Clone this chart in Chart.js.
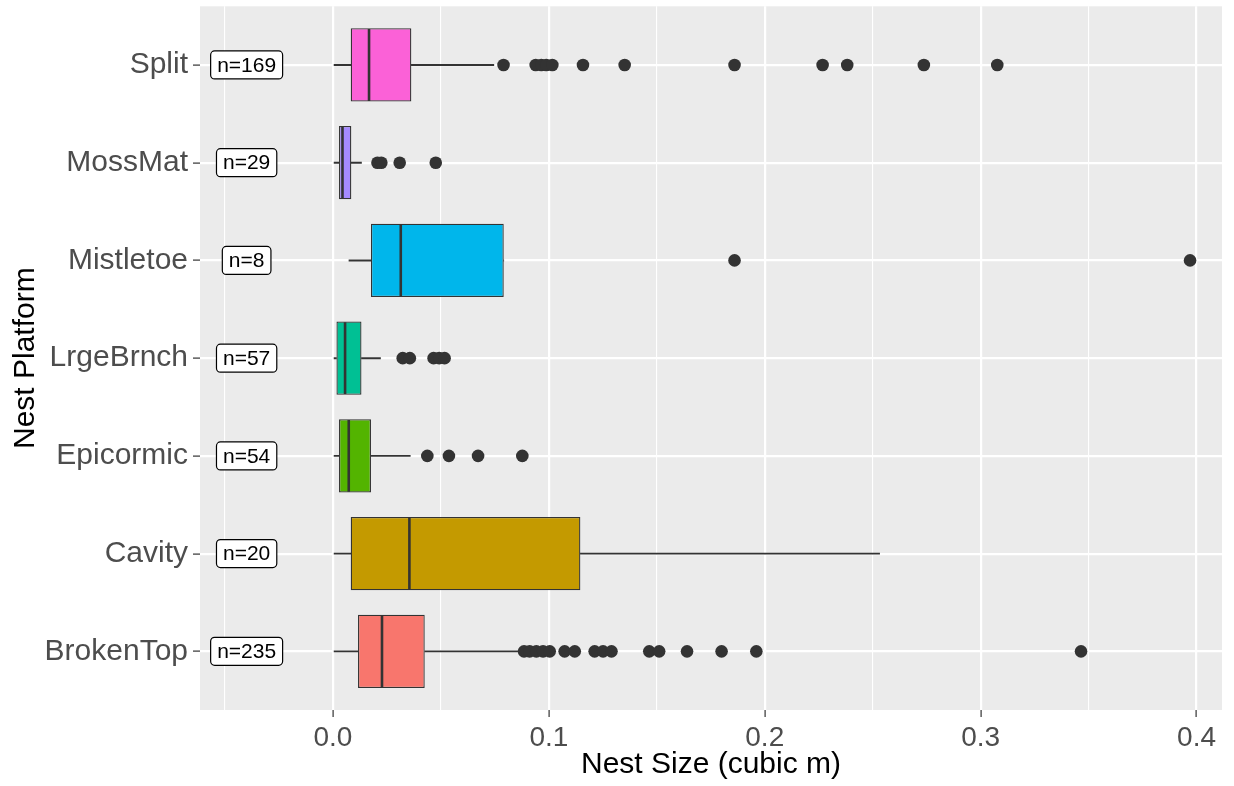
<!DOCTYPE html>
<html>
<head>
<meta charset="utf-8">
<script src="https://cdn.jsdelivr.net/npm/chart.js@4.4.0/dist/chart.umd.min.js"></script>
<style>
html,body{margin:0;padding:0;background:#ffffff;}
#wrap{width:1234px;height:786px;}
</style>
</head>
<body>
<div id="wrap"><canvas id="c" width="1234" height="786"></canvas></div>
<script>
// ---- data (bottom to top) ----
const categories = ['BrokenTop','Cavity','Epicormic','LrgeBrnch','Mistletoe','MossMat','Split'];
const counts     = [235, 20, 54, 57, 8, 29, 169];
const whiskLow   = [0.0000, 0.0000, 0.0000, 0.0000, 0.0074, 0.0000, 0.0005];
const q1         = [0.0116, 0.0082, 0.0028, 0.0016, 0.0176, 0.0028, 0.0082];
const median     = [0.0227, 0.0354, 0.0073, 0.0056, 0.0314, 0.0044, 0.0167];
const q3         = [0.0425, 0.1146, 0.0176, 0.0132, 0.0791, 0.0085, 0.0363];
const whiskHigh  = [0.0860, 0.2532, 0.0358, 0.0220, 0.0791, 0.0132, 0.0745];
const outBrokenTop = [0.0885,0.0911,0.0942,0.0973,0.1004,0.1073,0.1120,0.1212,0.1251,0.1290,0.1465,0.1511,0.1640,0.1800,0.1961,0.3465];
const outCavity    = [];
const outEpicormic = [0.0437,0.0537,0.0672,0.0877];
const outLrgeBrnch = [0.0323,0.0356,0.0466,0.0492,0.0517];
const outMistletoe = [0.1860,0.3970];
const outMossMat   = [0.0206,0.0224,0.0309,0.0476];
const outSplit     = [0.0790,0.0939,0.0965,0.0988,0.1016,0.1158,0.1351,0.1860,0.2268,0.2382,0.2737,0.3077];
const outliers = [outBrokenTop,outCavity,outEpicormic,outLrgeBrnch,outMistletoe,outMossMat,outSplit];
const xGridValues = [-0.05,0,0.05,0.1,0.15,0.2,0.25,0.3,0.35,0.4];
const xTickValues = [0,0.1,0.2,0.3,0.4];
const xTickLabels = ['0.0','0.1','0.2','0.3','0.4'];
const colors = ['#F8766D','#C49A00','#53B400','#00C094','#00B6EB','#A58AFF','#FB61D7'];
const labelX = -0.04;

const FONT = '"Liberation Sans", Arial, sans-serif';
const isMajor = v => xTickValues.some(t => Math.abs(t - v) < 1e-9);

const panelBg = {
  id: 'panelBg',
  beforeDraw(chart) {
    const {ctx, chartArea: a} = chart;
    ctx.save();
    ctx.fillStyle = '#ffffff';
    ctx.fillRect(0, 0, chart.width, chart.height);
    ctx.fillStyle = '#EBEBEB';
    ctx.fillRect(a.left, a.top, a.right - a.left, a.bottom - a.top);
    ctx.restore();
  }
};

const nLabels = {
  id: 'nLabels',
  afterDatasetsDraw(chart) {
    const {ctx, scales: {x, y}} = chart;
    ctx.save();
    ctx.font = '21px ' + FONT;
    ctx.textAlign = 'center';
    ctx.textBaseline = 'middle';
    categories.forEach((c, i) => {
      const txt = 'n=' + counts[i];
      const px = x.getPixelForValue(labelX);
      const py = y.getPixelForValue(i + 1);
      const tw = ctx.measureText(txt).width;
      const w = tw + 13, h = 28;
      ctx.beginPath();
      ctx.roundRect(px - w / 2, py - h / 2, w, h, 4);
      ctx.fillStyle = '#ffffff';
      ctx.fill();
      ctx.lineWidth = 1.2;
      ctx.strokeStyle = '#000000';
      ctx.stroke();
      ctx.fillStyle = '#000000';
      ctx.fillText(txt, px, py + 1);
    });
    ctx.restore();
  }
};

const lowerWhisk = categories.map((c, i) => ({y: i + 1, x: [whiskLow[i], q1[i]]}));
const upperWhisk = categories.map((c, i) => ({y: i + 1, x: [q3[i], whiskHigh[i]]}));
const boxes = categories.map((c, i) => ({y: i + 1, x: [q1[i], q3[i]]}));
const meds = categories.map((c, i) => ({x: median[i], y: i + 1}));
const outPts = [];
outliers.forEach((arr, i) => arr.forEach(v => outPts.push({x: v, y: i + 1})));

const halfBox = ctx => {
  const y = ctx.chart.scales.y;
  return Math.abs(y.getPixelForValue(1.375) - y.getPixelForValue(1)) - 0.7;
};

new Chart(document.getElementById('c'), {
  data: {
    datasets: [
      { type: 'line', label: 'outliers', data: outPts, showLine: false, order: 1,
        pointRadius: 6.3, pointBackgroundColor: '#333333', pointBorderColor: '#333333', pointBorderWidth: 0 },
      { type: 'line', label: 'median', data: meds, showLine: false, order: 2,
        pointStyle: 'line', pointRotation: 90, pointRadius: halfBox, pointBorderColor: '#333333', pointBorderWidth: 2.6 },
      { type: 'bar', label: 'box', data: boxes, indexAxis: 'y', grouped: false, order: 3,
        categoryPercentage: 1, barPercentage: 0.75, backgroundColor: colors,
        borderColor: '#333333', borderWidth: 1.3, borderSkipped: false },
      { type: 'bar', label: 'lw', data: lowerWhisk, indexAxis: 'y', grouped: false, order: 4,
        barThickness: 1.3, backgroundColor: '#333333', borderWidth: 0 },
      { type: 'bar', label: 'uw', data: upperWhisk, indexAxis: 'y', grouped: false, order: 5,
        barThickness: 1.3, backgroundColor: '#333333', borderWidth: 0 }
    ]
  },
  options: {
    responsive: false,
    devicePixelRatio: 1,
    animation: false,
    events: [],
    layout: { padding: { top: 4.5, right: 12, left: 0, bottom: 0 } },
    plugins: { legend: { display: false }, tooltip: { enabled: false } },
    scales: {
      x: {
        type: 'linear', position: 'bottom', min: -0.0616, max: 0.4118, offset: false,
        afterBuildTicks: s => { s.ticks = xGridValues.map(v => ({value: v})); },
        afterFit: s => { s.height = 76; s.paddingLeft = 0; s.paddingRight = 0; },
        ticks: {
          autoSkip: false, maxRotation: 0, padding: 4, color: '#4D4D4D',
          font: { family: FONT, size: 28 },
          callback: v => { const k = xTickValues.findIndex(t => Math.abs(t - v) < 1e-9); return k >= 0 ? xTickLabels[k] : ''; }
        },
        grid: {
          offset: false,
          color: '#FFFFFF',
          lineWidth: ctx => (ctx.tick && isMajor(ctx.tick.value)) ? 2.2 : 1.1,
          tickColor: ctx => (ctx.tick && isMajor(ctx.tick.value)) ? '#333333' : 'rgba(0,0,0,0)',
          tickLength: 7, tickWidth: 1.2
        },
        border: { display: false },
        title: { display: true, text: 'Nest Size (cubic m)', color: '#000000',
          font: { family: FONT, size: 30, lineHeight: 1 }, padding: { top: 0, bottom: 6 } }
      },
      y: {
        type: 'linear', position: 'left', min: 0.4, max: 7.6, offset: false,
        afterBuildTicks: s => { s.ticks = categories.map((c, i) => ({value: i + 1})); },
        afterFit: s => { s.width = 200; s.paddingTop = 0; s.paddingBottom = 0; },
        ticks: {
          autoSkip: false, padding: 5, color: '#4D4D4D',
          font: { family: FONT, size: 30 },
          callback: v => categories[Math.round(v) - 1]
        },
        grid: { offset: false, color: '#FFFFFF', lineWidth: 2.2, tickColor: '#333333', tickLength: 7, tickWidth: 1.2 },
        border: { display: false },
        title: { display: true, text: 'Nest Platform', color: '#000000',
          font: { family: FONT, size: 30, lineHeight: 1 }, padding: { top: 11, bottom: 0 } }
      }
    }
  },
  plugins: [panelBg, nLabels]
});
</script>
</body>
</html>
